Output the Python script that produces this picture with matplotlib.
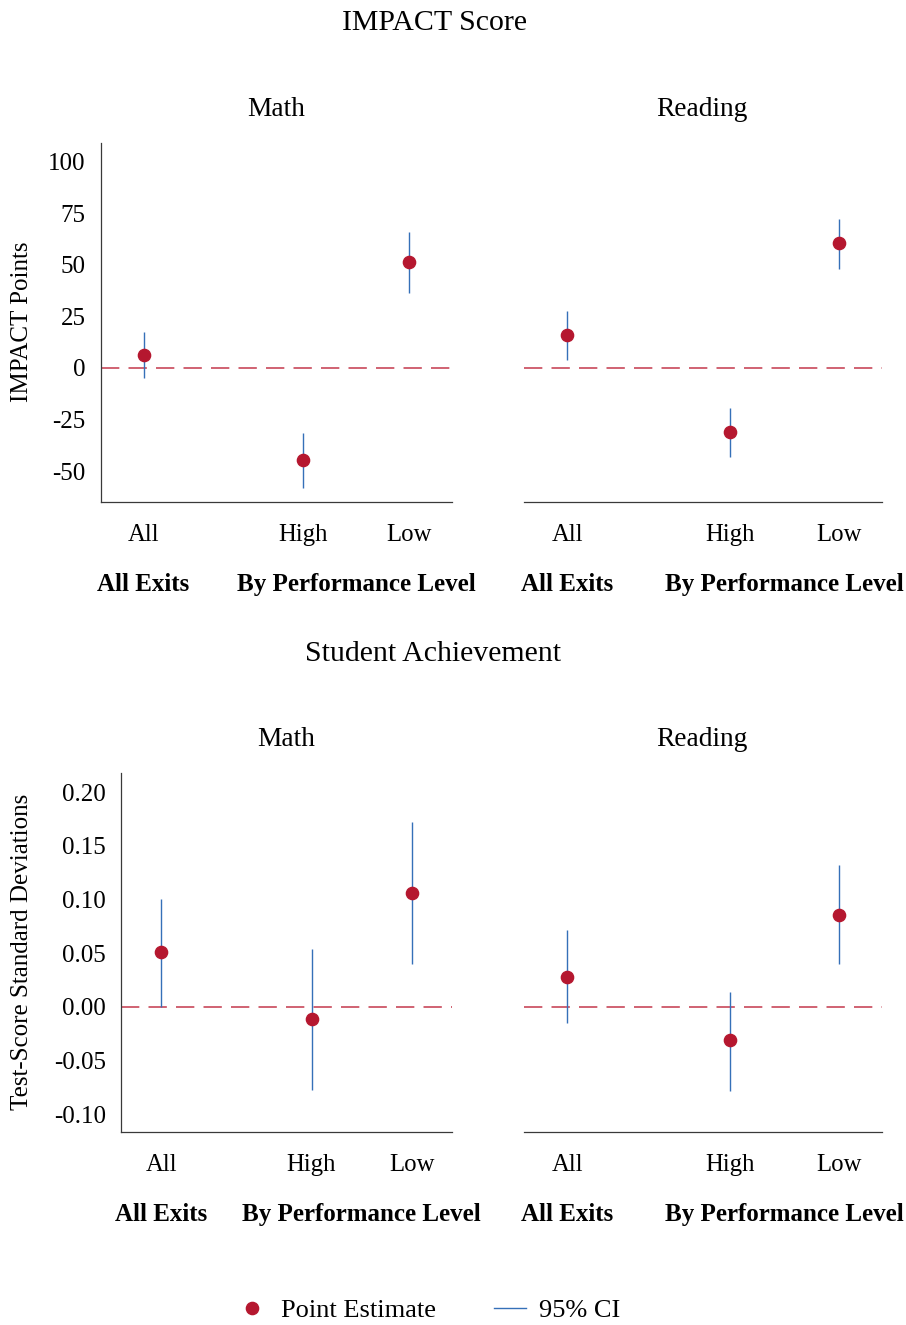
import numpy as np
import matplotlib
matplotlib.use("Agg")
import matplotlib.pyplot as plt
from matplotlib.lines import Line2D

plt.rcParams['font.family'] = ['Liberation Serif', 'DejaVu Serif']

# categories
cats = ["All", "High", "Low"]
xpos = [1, 2.5, 3.5]
groups = ["All Exits", "By Performance Level"]
group_x = [1, 3.0]

# IMPACT score
impact_math_est = [6.3, -44.5, 51.4]
impact_math_lo = [-4.9, -58.4, 36.4]
impact_math_hi = [17.2, -31.5, 66.0]
impact_read_est = [15.9, -31.2, 60.3]
impact_read_lo = [3.7, -43.3, 48.1]
impact_read_hi = [27.8, -19.4, 72.0]

# student achievement
ach_math_est = [0.051, -0.011, 0.106]
ach_math_lo = [0.0, -0.077, 0.040]
ach_math_hi = [0.101, 0.054, 0.172]
ach_read_est = [0.028, -0.031, 0.086]
ach_read_lo = [-0.015, -0.078, 0.040]
ach_read_hi = [0.072, 0.014, 0.132]

RED = '#B5172F'
BLUE = '#3570B8'
DASH = '#C8485A'
SPINE = '#3a3a3a'

W, H = 906, 1325
fig = plt.figure(figsize=(W / 100, H / 100), dpi=100)


def px_axes(l, t, r, b):
    return fig.add_axes([l / W, 1 - b / H, (r - l) / W, (b - t) / H])


def panel(ax, est, lo, hi, ylim, yticks, yfmt, show_y):
    ax.axhline(0, color=DASH, lw=1.2, dashes=(11, 5.5), zorder=1)
    ax.vlines(xpos, lo, hi, color=BLUE, lw=1.0, zorder=2)
    ax.plot(xpos, est, 'o', color=RED, ms=8.8, zorder=3)
    ax.set_xlim(0.6, 3.9)
    ax.set_ylim(*ylim)
    for s in ['top', 'right']:
        ax.spines[s].set_visible(False)
    ax.spines['bottom'].set_color(SPINE)
    ax.spines['bottom'].set_linewidth(0.9)
    if show_y:
        ax.spines['left'].set_color(SPINE)
        ax.spines['left'].set_linewidth(0.9)
        ax.set_yticks(yticks)
        ax.set_yticklabels([yfmt.format(v) for v in yticks])
        ax.tick_params(axis='y', length=0, pad=11, labelsize=18)
    else:
        ax.spines['left'].set_visible(False)
        ax.set_yticks([])
    ax.set_xticks(xpos)
    ax.set_xticklabels(cats)
    ax.tick_params(axis='x', length=0, pad=15.5, labelsize=17.8)
    for g, gx in zip(groups, group_x):
        ax.annotate(g, xy=(gx, 0), xycoords=('data', 'axes fraction'),
                    xytext=(0, -59.5), textcoords='offset points',
                    ha='center', va='center', fontsize=18, fontweight='bold')


imp_ylim = (-65, 109)
imp_ticks = [-50, -25, 0, 25, 50, 75, 100]
ach_ylim = (-0.1165, 0.218)
ach_ticks = [-0.10, -0.05, 0.0, 0.05, 0.10, 0.15, 0.20]

ax1 = px_axes(101, 143, 452, 502)
panel(ax1, impact_math_est, impact_math_lo, impact_math_hi, imp_ylim, imp_ticks, '{:g}', True)
ax2 = px_axes(524, 143, 882, 502)
panel(ax2, impact_read_est, impact_read_lo, impact_read_hi, imp_ylim, imp_ticks, '{:g}', False)
ax3 = px_axes(121, 773, 452, 1132)
panel(ax3, ach_math_est, ach_math_lo, ach_math_hi, ach_ylim, ach_ticks, '{:.2f}', True)
ax4 = px_axes(524, 773, 882, 1132)
panel(ax4, ach_read_est, ach_read_lo, ach_read_hi, ach_ylim, ach_ticks, '{:.2f}', False)

def ftext(x, y, s, **kw):
    fig.text(x / W, 1 - y / H, s, ha='center', va='center', **kw)

ftext(435, 23, "IMPACT Score", fontsize=21.5)
ftext(276, 110, "Math", fontsize=19.7)
ftext(702, 110, "Reading", fontsize=19.7)
ftext(433, 654, "Student Achievement", fontsize=21.5)
ftext(286, 740, "Math", fontsize=19.7)
ftext(702, 740, "Reading", fontsize=19.7)
ftext(22, 322, "IMPACT Points", fontsize=18, rotation=90)
ftext(22, 952, "Test-Score Standard Deviations", fontsize=18, rotation=90)

handles = [Line2D([], [], ls='none', marker='o', color=RED, ms=8.8),
           Line2D([], [], color=BLUE, lw=1.0)]
fig.legend(handles, ["Point Estimate", "95% CI"], loc='center',
           bbox_to_anchor=(428 / W, 1 - 1310 / H), ncol=2, frameon=False,
           fontsize=19, handlelength=1.2, handletextpad=0.5, columnspacing=2.2)

fig.savefig("out.png", dpi=100)
